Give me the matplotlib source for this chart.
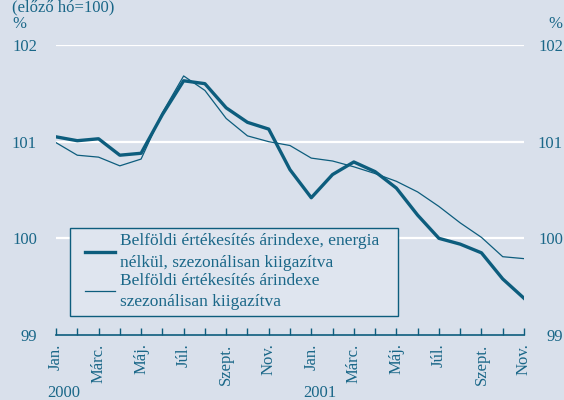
import matplotlib.pyplot as plt
from matplotlib.patches import Rectangle
import numpy as np

plt.rcParams['font.family'] = ['Liberation Serif', 'DejaVu Serif']

BG = '#d9e0eb'
LINE = '#0d5d7d'
TXT = '#1a6788'

months = ['Jan.', 'Febr.', 'Márc.', 'Ápr.', 'Máj.', 'Jún.', 'Júl.', 'Aug.',
          'Szept.', 'Okt.', 'Nov.', 'Dec.'] * 2
months = months[:23]
years = ['2000', '2001']

# energia nélkül, szezonálisan kiigazítva
core = [101.05, 101.01, 101.03, 100.86, 100.88, 101.28, 101.63, 101.60,
        101.35, 101.20, 101.13, 100.71, 100.42, 100.66, 100.79, 100.69,
        100.52, 100.24, 100.00, 99.94, 99.85, 99.58, 99.38]
# szezonálisan kiigazítva
total = [100.99, 100.86, 100.84, 100.75, 100.82, 101.30, 101.68, 101.53,
         101.24, 101.06, 101.00, 100.96, 100.83, 100.80, 100.74, 100.67,
         100.59, 100.48, 100.33, 100.16, 100.01, 99.81, 99.79]

legend_labels = ['Belföldi értékesítés árindexe, energia\nnélkül, szezonálisan kiigazítva',
                 'Belföldi értékesítés árindexe\nszezonálisan kiigazítva']
yticks = [99, 100, 101, 102]

fig = plt.figure(figsize=(5.64, 4.0), dpi=100, facecolor=BG)
ax = fig.add_axes([56 / 564, 65 / 400, 468 / 564, 290 / 400])
ax.set_facecolor(BG)
x = np.arange(len(months))

for v in yticks[1:]:
    ax.axhline(v, color='white', linewidth=1.6, zorder=1)

l1, = ax.plot(x, core, color=LINE, linewidth=2.4, zorder=3)
l2, = ax.plot(x, total, color=LINE, linewidth=0.9, zorder=2)

ax.set_xlim(0, len(months) - 1)
ax.set_ylim(99, 102)
for s in ['top', 'left', 'right']:
    ax.spines[s].set_visible(False)
ax.spines['bottom'].set_color(LINE)
ax.spines['bottom'].set_linewidth(1.2)

ax.set_xticks(x)
ax.set_xticklabels([m if i % 2 == 0 else '' for i, m in enumerate(months)],
                   rotation=90, va='top', ha='center')
ax.tick_params(axis='x', direction='in', length=5, width=1, color=LINE,
               labelcolor=TXT, labelsize=12, pad=6)

ax.set_yticks(yticks)
ax.set_yticklabels([str(v) for v in yticks])
ax.tick_params(axis='y', length=0, labelcolor=TXT, labelsize=12, pad=13.7)

ax2 = ax.twinx()
ax2.set_ylim(99, 102)
ax2.set_yticks(yticks)
ax2.set_yticklabels([str(v) for v in yticks])
for s in ['top', 'left', 'right', 'bottom']:
    ax2.spines[s].set_visible(False)
ax2.tick_params(axis='y', length=0, labelcolor=TXT, labelsize=12, pad=28)
for lab in ax2.get_yticklabels():
    lab.set_horizontalalignment('right')

# year labels
for i, yr in enumerate(years):
    ax.text(i * 12 - 0.4, -62 / 290, yr, transform=ax.get_xaxis_transform(),
            color=TXT, fontsize=12, ha='left', va='baseline')

fig.text(12 / 564, 1 - 28 / 400, '%', color=TXT, fontsize=12, ha='left', va='baseline')
fig.text(562 / 564, 1 - 28 / 400, '%', color=TXT, fontsize=12, ha='right', va='baseline')
fig.text(12 / 564, 1 - 11 / 400, '(előző hó=100)', color=TXT, fontsize=12,
         ha='left', va='baseline')

# legend box drawn separately so the padding matches
box = Rectangle((14 / 468, 19 / 290), 328 / 468, 88 / 290, transform=ax.transAxes,
                facecolor='#dfe5ef', edgecolor=LINE, linewidth=1.0, zorder=4)
ax.add_patch(box)
leg = ax.legend([l1, l2], legend_labels, loc='lower left',
                bbox_to_anchor=(29 / 468, 25 / 290), fontsize=12.5,
                frameon=False, handlelength=1.7,
                handletextpad=0.3, labelspacing=0.1, borderpad=0,
                borderaxespad=0, labelcolor=TXT)
leg.set_zorder(5)
for t in leg.get_texts():
    t.set_linespacing(1.45)

fig.savefig('out.png', dpi=100, facecolor=BG)
